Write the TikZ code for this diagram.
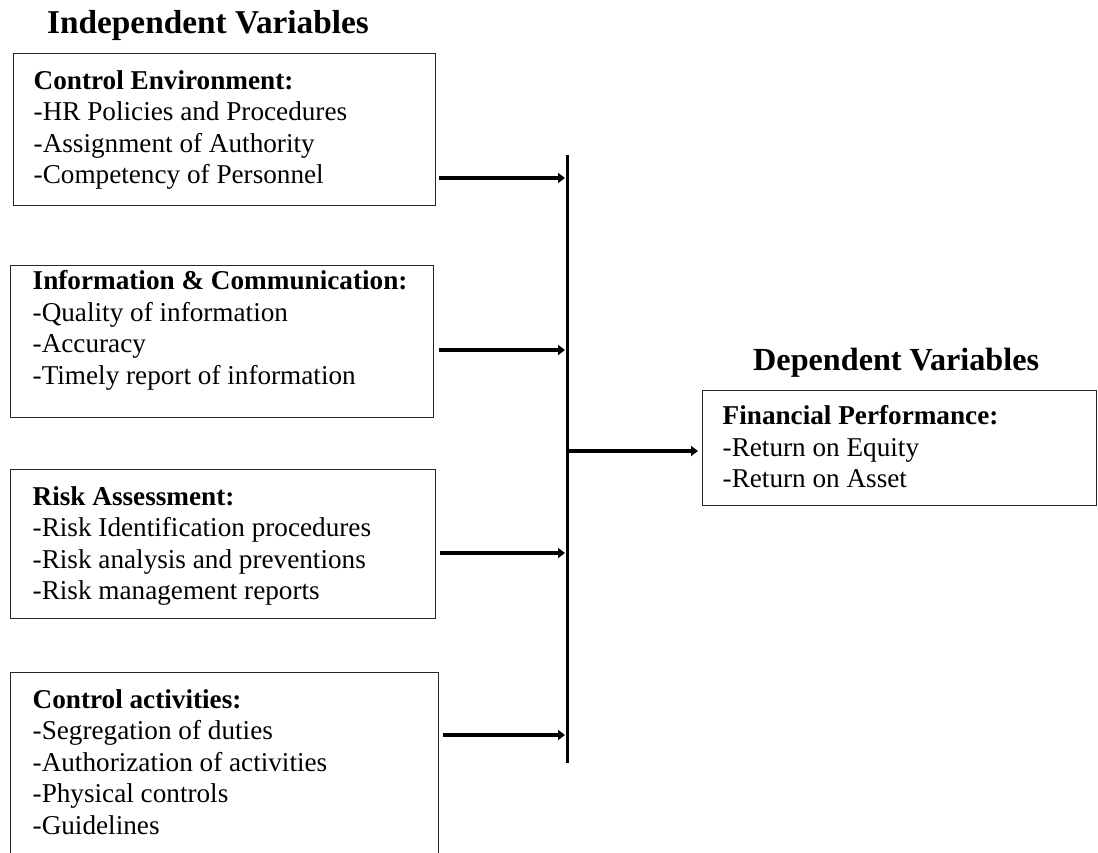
\documentclass[tikz,border=0pt]{standalone}
\usepackage{fontspec}
\setmainfont{Liberation Serif}
\usepackage{tikz}
\usetikzlibrary{arrows.meta}
\newcommand{\varlist}[3]{\parbox[t][#1][t]{#2}{\raggedright\hyphenpenalty=10000 #3}}
\tikzset{
	varbox/.style={draw=black!85, line width=1.4pt, anchor=north west, inner xsep=22pt, inner ysep=16.5pt, font=\fontsize{27.2}{31.5}\selectfont},
	heading/.style={anchor=base west, inner sep=0pt, font=\fontsize{32.2}{38}\selectfont\bfseries},
	feed/.style={line width=4.5pt, -{Triangle[length=7pt,width=10pt]}},
	bus/.style={line width=3pt}
}

\begin{document}
\begin{tikzpicture}[x=1pt,y=-1pt]
		%%%%% START %%%%%
		\useasboundingbox (0,0) rectangle (1098,852);
		\clip (0,0) rectangle (1098,852);
		
		\node[heading, font=\fontsize{33.3}{38}\selectfont\bfseries] (indep) at (47,33) {Independent Variables};
		\node[heading] (dep) at (753,370) {Dependent Variables};
		
		\node[varbox, inner xsep=20pt] (cenv) at (13,53) {\varlist{119pt}{382pt}{\textbf{Control Environment:}\\-HR Policies and Procedures\\-Assignment of Authority\\-Competency of Personnel}};
		\node[varbox, inner ysep=4.7pt] (info) at (10,265) {\varlist{142.6pt}{379pt}{\textbf{Information \& Communication:}\\-Quality of information\\-Accuracy\\-Timely report of information}};
		\node[varbox] (risk) at (10,469) {\varlist{116pt}{381pt}{\textbf{Risk Assessment:}\\-Risk Identification procedures\\-Risk analysis and preventions\\-Risk management reports}};
		\node[varbox] (cact) at (10,672) {\varlist{200pt}{384pt}{\textbf{Control activities:}\\-Segregation of duties\\-Authorization of activities\\-Physical controls\\-Guidelines}};
		
		\node[varbox, inner xsep=20pt, inner ysep=14.7pt] (fin) at (702,390) {\varlist{85.6pt}{354pt}{\textbf{Financial Performance:}\\-Return on Equity\\-Return on Asset}};
		
		% the bar that gathers the four inputs
		\coordinate (bustop) at (567,155);
		\coordinate (busbot) at (567,763);
		\draw[bus] (bustop) -- (busbot);
		
		\coordinate (j1) at (565,178);
		\coordinate (j2) at (565,350);
		\coordinate (j3) at (565,553);
		\coordinate (j4) at (565,735);
		\coordinate (jout) at (568,451);
		
		\draw[feed] ([xshift=3pt]cenv.east |- j1) -- (j1);
		\draw[feed] ([xshift=5pt]info.east |- j2) -- (j2);
		\draw[feed] ([xshift=4pt]risk.east |- j3) -- (j3);
		\draw[feed] ([xshift=4pt]cact.east |- j4) -- (j4);
		\draw[feed] (jout) -- ([xshift=-4pt]fin.west |- jout);
		
		%%%%% END %%%%%
	\end{tikzpicture}
\end{document}
